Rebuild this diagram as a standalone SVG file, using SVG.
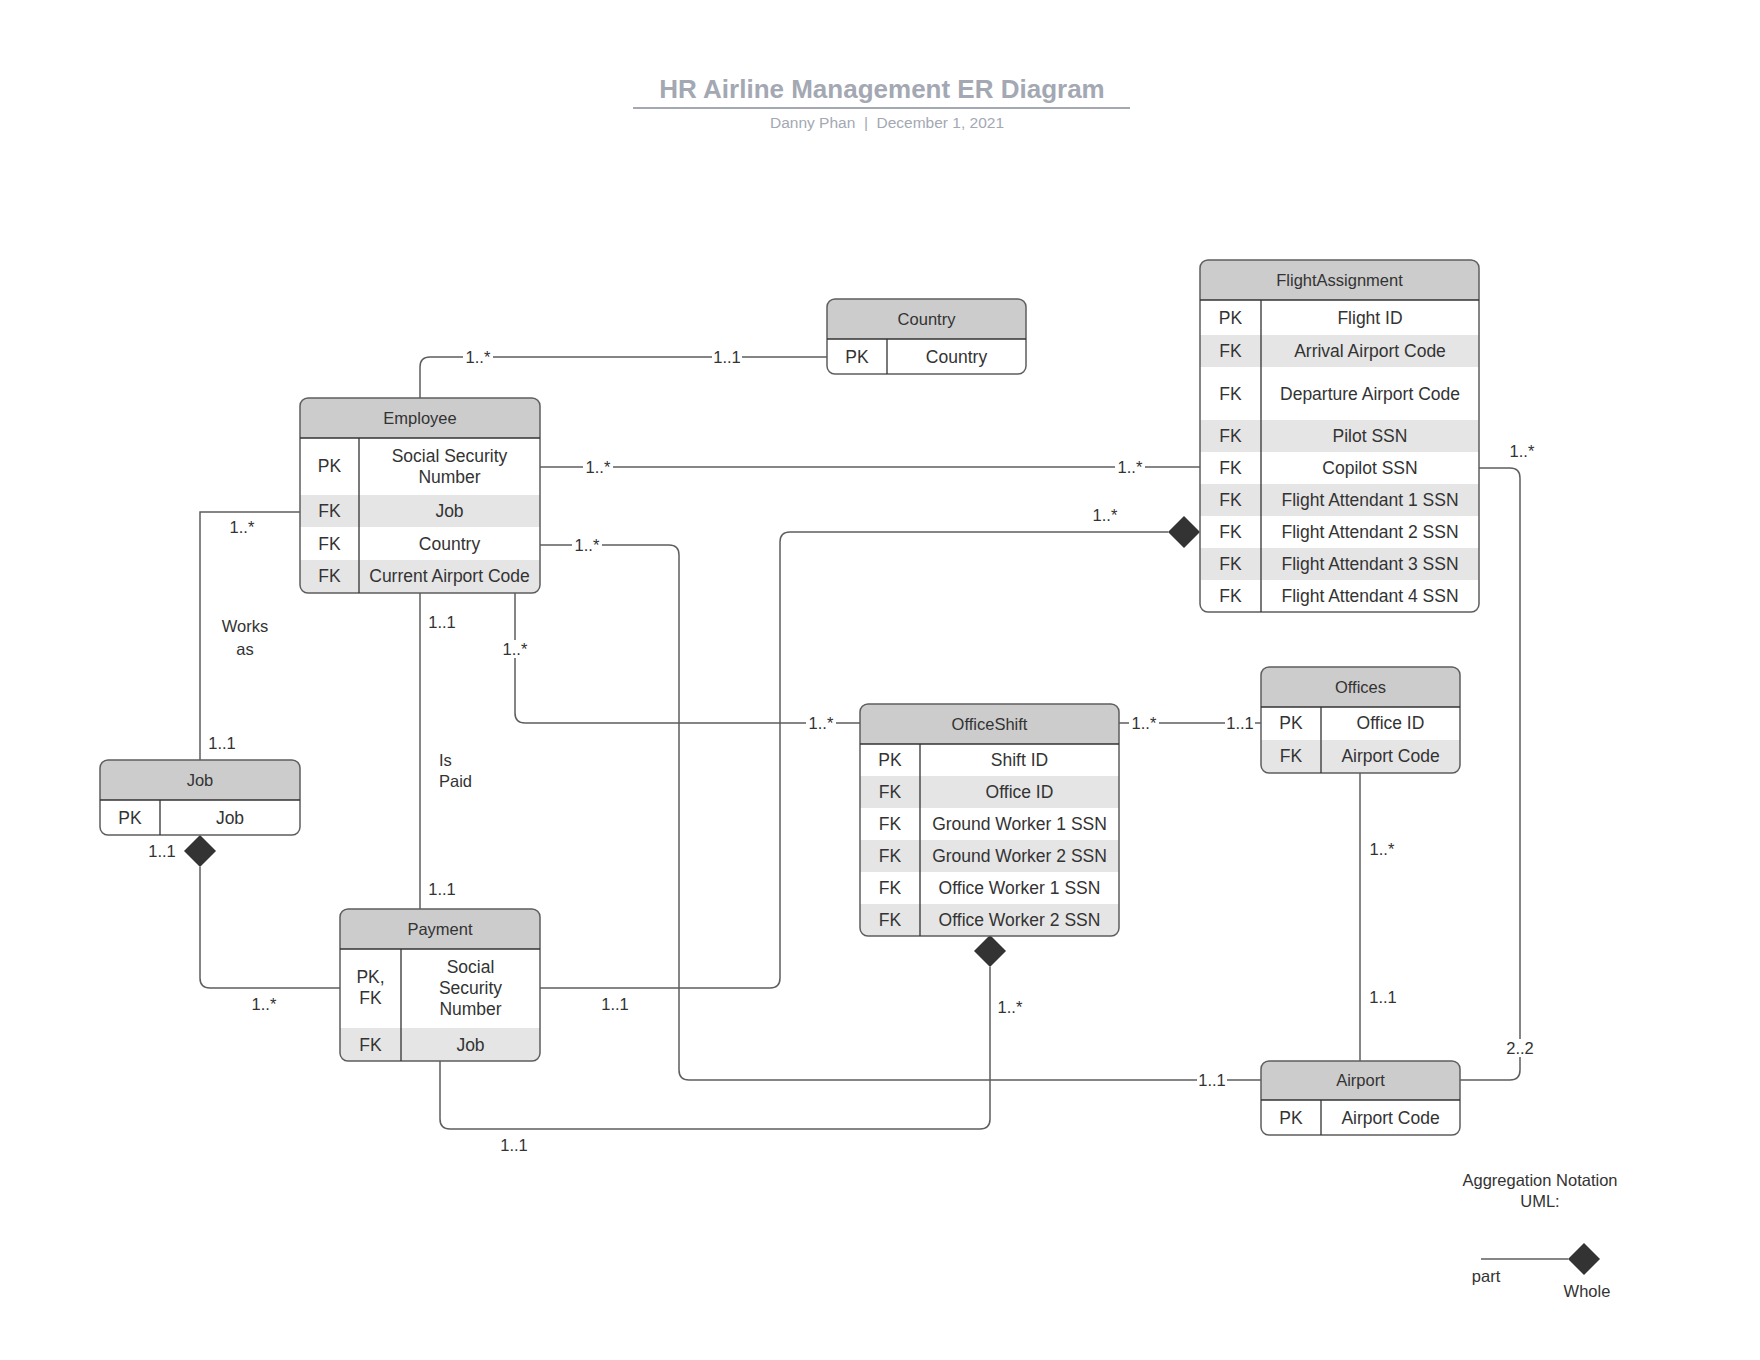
<svg xmlns="http://www.w3.org/2000/svg" width="1760" height="1360" viewBox="0 0 1760 1360">
<style>
text{font-family:"Liberation Sans",Arial,sans-serif;fill:#333;}
.title{font-size:26px;font-weight:bold;fill:#a3a8b3;}
.sub{font-size:15.5px;fill:#a3a8b3;}
.hd{font-size:16.5px;text-anchor:middle;}
.f{font-size:17.5px;text-anchor:middle;}
.lb{font-size:16.5px;text-anchor:middle;}
.ln{font-size:16.5px;}
.bg{fill:#fff;stroke:none;}
.hdr{fill:#cccccc;}
.g{fill:#e5e5e5;}
.box{fill:none;stroke:#5e5e5e;stroke-width:1.5;}
.sep{stroke:#333;stroke-width:1.3;fill:none;}
.c{fill:none;stroke:#5e5e5e;stroke-width:1.5;}
.dm{fill:#333;stroke:none;}
</style>
<defs>
<clipPath id="cpEmp"><rect x="300" y="398" width="240" height="195" rx="8"/></clipPath>
<clipPath id="cpCty"><rect x="827" y="299" width="199" height="75" rx="8"/></clipPath>
<clipPath id="cpFA"><rect x="1200" y="260" width="279" height="352" rx="8"/></clipPath>
<clipPath id="cpOS"><rect x="860" y="704" width="259" height="232" rx="8"/></clipPath>
<clipPath id="cpOff"><rect x="1261" y="667" width="199" height="106" rx="8"/></clipPath>
<clipPath id="cpAir"><rect x="1261" y="1061" width="199" height="74" rx="8"/></clipPath>
<clipPath id="cpJob"><rect x="100" y="760" width="200" height="75" rx="8"/></clipPath>
<clipPath id="cpPay"><rect x="340" y="909" width="200" height="152" rx="8"/></clipPath>
</defs>
<rect width="1760" height="1360" fill="#fff"/>

<g id="title">
<text class="title" x="882" y="98" text-anchor="middle">HR Airline Management ER Diagram</text>
<line x1="633" y1="108" x2="1130" y2="108" stroke="#a3a8b3" stroke-width="2"/>
<text class="sub" x="887" y="128" text-anchor="middle" xml:space="preserve">Danny Phan  |  December 1, 2021</text>
</g>

<g id="connectors">
<path class="c" d="M420 398 V367 Q420 357 430 357 H827"/>
<rect class="bg" x="463" y="349" width="30" height="16"/>
<text class="lb" x="478" y="357" dy="0.35em">1..*</text>
<rect class="bg" x="712" y="349" width="30" height="16"/>
<text class="lb" x="727" y="357" dy="0.35em">1..1</text>

<path class="c" d="M540 467 H1200"/>
<rect class="bg" x="583" y="459" width="30" height="16"/>
<text class="lb" x="598" y="467" dy="0.35em">1..*</text>
<rect class="bg" x="1115" y="459" width="30" height="16"/>
<text class="lb" x="1130" y="467" dy="0.35em">1..*</text>

<path class="c" d="M540 545 H669 Q679 545 679 555 V1070 Q679 1080 689 1080 H1261"/>
<rect class="bg" x="572" y="537" width="30" height="16"/>
<text class="lb" x="587" y="545" dy="0.35em">1..*</text>
<rect class="bg" x="1197" y="1072" width="30" height="16"/>
<text class="lb" x="1212" y="1080" dy="0.35em">1..1</text>

<path class="c" d="M515 593 V713 Q515 723 525 723 H860"/>
<rect class="bg" x="500" y="640" width="30" height="18"/>
<text class="lb" x="515" y="649" dy="0.35em">1..*</text>
<rect class="bg" x="806" y="715" width="30" height="16"/>
<text class="lb" x="821" y="723" dy="0.35em">1..*</text>

<path class="c" d="M300 512 H200 V760"/>
<text class="lb" x="242" y="527" dy="0.35em">1..*</text>
<text class="lb" x="245" y="626" dy="0.35em">Works</text>
<text class="lb" x="245" y="649" dy="0.35em">as</text>
<text class="lb" x="222" y="743" dy="0.35em">1..1</text>

<path class="c" d="M420 593 V909"/>
<text class="lb" x="442" y="622" dy="0.35em">1..1</text>
<text class="ln" x="439" y="760" dy="0.35em">Is</text>
<text class="ln" x="439" y="781" dy="0.35em">Paid</text>
<text class="lb" x="442" y="889" dy="0.35em">1..1</text>

<path class="c" d="M200 867 V978 Q200 988 210 988 H340"/>
<polygon class="dm" points="200,835 216,851 200,867 184,851"/>
<text class="lb" x="162" y="851" dy="0.35em">1..1</text>
<text class="lb" x="264" y="1004" dy="0.35em">1..*</text>

<path class="c" d="M540 988 H770 Q780 988 780 978 V542 Q780 532 790 532 H1168"/>
<polygon class="dm" points="1168,532 1184,516 1200,532 1184,548"/>
<text class="lb" x="615" y="1004" dy="0.35em">1..1</text>
<text class="lb" x="1105" y="515" dy="0.35em">1..*</text>

<path class="c" d="M440 1061 V1119 Q440 1129 450 1129 H980 Q990 1129 990 1119 V967"/>
<polygon class="dm" points="990,935 1006,951 990,967 974,951"/>
<text class="lb" x="514" y="1145" dy="0.35em">1..1</text>
<text class="lb" x="1010" y="1007" dy="0.35em">1..*</text>

<path class="c" d="M1119 723 H1261"/>
<rect class="bg" x="1129" y="715" width="30" height="16"/>
<text class="lb" x="1144" y="723" dy="0.35em">1..*</text>
<rect class="bg" x="1225" y="715" width="30" height="16"/>
<text class="lb" x="1240" y="723" dy="0.35em">1..1</text>

<path class="c" d="M1360 773 V1061"/>
<text class="lb" x="1382" y="849" dy="0.35em">1..*</text>
<text class="lb" x="1383" y="997" dy="0.35em">1..1</text>

<path class="c" d="M1479 468 H1510 Q1520 468 1520 478 V1070 Q1520 1080 1510 1080 H1460"/>
<text class="lb" x="1522" y="451" dy="0.35em">1..*</text>
<rect class="bg" x="1505" y="1039" width="30" height="18"/>
<text class="lb" x="1520" y="1048" dy="0.35em">2..2</text>
</g>

<g id="country">
<g clip-path="url(#cpCty)">
<rect class="hdr" x="827" y="299" width="199" height="40"/>
</g>
<rect class="box" x="827" y="299" width="199" height="75" rx="8"/>
<path class="sep" d="M827 339 H1026 M887 339 V374"/>
<text class="hd" x="926.5" y="319" dy="0.35em">Country</text>
<text class="f" x="857" y="357" dy="0.35em">PK</text>
<text class="f" x="956.5" y="357" dy="0.35em">Country</text>
</g>

<g id="employee">
<g clip-path="url(#cpEmp)">
<rect class="hdr" x="300" y="398" width="240" height="40"/>
<rect class="g" x="300" y="495" width="240" height="32"/>
<rect class="g" x="300" y="560" width="240" height="33"/>
</g>
<rect class="box" x="300" y="398" width="240" height="195" rx="8"/>
<path class="sep" d="M300 438 H540 M359 438 V593"/>
<text class="hd" x="420" y="418" dy="0.35em">Employee</text>
<text class="f" x="329.5" y="466" dy="0.35em">PK</text>
<text class="f" x="449.5" y="456" dy="0.35em">Social Security</text>
<text class="f" x="449.5" y="477" dy="0.35em">Number</text>
<text class="f" x="329.5" y="511" dy="0.35em">FK</text>
<text class="f" x="449.5" y="511" dy="0.35em">Job</text>
<text class="f" x="329.5" y="544" dy="0.35em">FK</text>
<text class="f" x="449.5" y="544" dy="0.35em">Country</text>
<text class="f" x="329.5" y="576" dy="0.35em">FK</text>
<text class="f" x="449.5" y="576" dy="0.35em">Current Airport Code</text>
</g>

<g id="flightassignment">
<g clip-path="url(#cpFA)">
<rect class="hdr" x="1200" y="260" width="279" height="40"/>
<rect class="g" x="1200" y="335" width="279" height="32"/>
<rect class="g" x="1200" y="420" width="279" height="32"/>
<rect class="g" x="1200" y="484" width="279" height="32"/>
<rect class="g" x="1200" y="548" width="279" height="32"/>
</g>
<rect class="box" x="1200" y="260" width="279" height="352" rx="8"/>
<path class="sep" d="M1200 300 H1479 M1261 300 V612"/>
<text class="hd" x="1339.5" y="280" dy="0.35em">FlightAssignment</text>
<text class="f" x="1230.5" y="317.5" dy="0.35em">PK</text>
<text class="f" x="1370" y="317.5" dy="0.35em">Flight ID</text>
<text class="f" x="1230.5" y="351" dy="0.35em">FK</text>
<text class="f" x="1370" y="351" dy="0.35em">Arrival Airport Code</text>
<text class="f" x="1230.5" y="393.5" dy="0.35em">FK</text>
<text class="f" x="1370" y="393.5" dy="0.35em">Departure Airport Code</text>
<text class="f" x="1230.5" y="436" dy="0.35em">FK</text>
<text class="f" x="1370" y="436" dy="0.35em">Pilot SSN</text>
<text class="f" x="1230.5" y="468" dy="0.35em">FK</text>
<text class="f" x="1370" y="468" dy="0.35em">Copilot SSN</text>
<text class="f" x="1230.5" y="500" dy="0.35em">FK</text>
<text class="f" x="1370" y="500" dy="0.35em">Flight Attendant 1 SSN</text>
<text class="f" x="1230.5" y="532" dy="0.35em">FK</text>
<text class="f" x="1370" y="532" dy="0.35em">Flight Attendant 2 SSN</text>
<text class="f" x="1230.5" y="564" dy="0.35em">FK</text>
<text class="f" x="1370" y="564" dy="0.35em">Flight Attendant 3 SSN</text>
<text class="f" x="1230.5" y="596" dy="0.35em">FK</text>
<text class="f" x="1370" y="596" dy="0.35em">Flight Attendant 4 SSN</text>
</g>

<g id="officeshift">
<g clip-path="url(#cpOS)">
<rect class="hdr" x="860" y="704" width="259" height="40"/>
<rect class="g" x="860" y="776" width="259" height="32"/>
<rect class="g" x="860" y="840" width="259" height="32"/>
<rect class="g" x="860" y="904" width="259" height="32"/>
</g>
<rect class="box" x="860" y="704" width="259" height="232" rx="8"/>
<path class="sep" d="M860 744 H1119 M920 744 V936"/>
<text class="hd" x="989.5" y="724" dy="0.35em">OfficeShift</text>
<text class="f" x="890" y="760" dy="0.35em">PK</text>
<text class="f" x="1019.5" y="760" dy="0.35em">Shift ID</text>
<text class="f" x="890" y="792" dy="0.35em">FK</text>
<text class="f" x="1019.5" y="792" dy="0.35em">Office ID</text>
<text class="f" x="890" y="824" dy="0.35em">FK</text>
<text class="f" x="1019.5" y="824" dy="0.35em">Ground Worker 1 SSN</text>
<text class="f" x="890" y="856" dy="0.35em">FK</text>
<text class="f" x="1019.5" y="856" dy="0.35em">Ground Worker 2 SSN</text>
<text class="f" x="890" y="888" dy="0.35em">FK</text>
<text class="f" x="1019.5" y="888" dy="0.35em">Office Worker 1 SSN</text>
<text class="f" x="890" y="920" dy="0.35em">FK</text>
<text class="f" x="1019.5" y="920" dy="0.35em">Office Worker 2 SSN</text>
</g>

<g id="offices">
<g clip-path="url(#cpOff)">
<rect class="hdr" x="1261" y="667" width="199" height="40"/>
<rect class="g" x="1261" y="740" width="199" height="33"/>
</g>
<rect class="box" x="1261" y="667" width="199" height="106" rx="8"/>
<path class="sep" d="M1261 707 H1460 M1321 707 V773"/>
<text class="hd" x="1360.5" y="687" dy="0.35em">Offices</text>
<text class="f" x="1291" y="723" dy="0.35em">PK</text>
<text class="f" x="1390.5" y="723" dy="0.35em">Office ID</text>
<text class="f" x="1291" y="756" dy="0.35em">FK</text>
<text class="f" x="1390.5" y="756" dy="0.35em">Airport Code</text>
</g>

<g id="airport">
<g clip-path="url(#cpAir)">
<rect class="hdr" x="1261" y="1061" width="199" height="39"/>
</g>
<rect class="box" x="1261" y="1061" width="199" height="74" rx="8"/>
<path class="sep" d="M1261 1100 H1460 M1321 1100 V1135"/>
<text class="hd" x="1360.5" y="1080" dy="0.35em">Airport</text>
<text class="f" x="1291" y="1117.5" dy="0.35em">PK</text>
<text class="f" x="1390.5" y="1117.5" dy="0.35em">Airport Code</text>
</g>

<g id="job">
<g clip-path="url(#cpJob)">
<rect class="hdr" x="100" y="760" width="200" height="40"/>
</g>
<rect class="box" x="100" y="760" width="200" height="75" rx="8"/>
<path class="sep" d="M100 800 H300 M160 800 V835"/>
<text class="hd" x="200" y="780" dy="0.35em">Job</text>
<text class="f" x="130" y="817.5" dy="0.35em">PK</text>
<text class="f" x="230" y="817.5" dy="0.35em">Job</text>
</g>

<g id="payment">
<g clip-path="url(#cpPay)">
<rect class="hdr" x="340" y="909" width="200" height="40"/>
<rect class="g" x="340" y="1028" width="200" height="33"/>
</g>
<rect class="box" x="340" y="909" width="200" height="152" rx="8"/>
<path class="sep" d="M340 949 H540 M401 949 V1061"/>
<text class="hd" x="440" y="929" dy="0.35em">Payment</text>
<text class="f" x="370.5" y="977" dy="0.35em">PK,</text>
<text class="f" x="370.5" y="998" dy="0.35em">FK</text>
<text class="f" x="470.5" y="967" dy="0.35em">Social</text>
<text class="f" x="470.5" y="988" dy="0.35em">Security</text>
<text class="f" x="470.5" y="1009" dy="0.35em">Number</text>
<text class="f" x="370.5" y="1044.5" dy="0.35em">FK</text>
<text class="f" x="470.5" y="1044.5" dy="0.35em">Job</text>
</g>

<g id="legend">
<text class="ln" x="1540" y="1180" dy="0.35em" text-anchor="middle">Aggregation Notation</text>
<text class="ln" x="1540" y="1201" dy="0.35em" text-anchor="middle">UML:</text>
<path class="c" d="M1481 1259 H1568"/>
<polygon class="dm" points="1568,1259 1584,1243 1600,1259 1584,1275"/>
<text class="ln" x="1486" y="1276" dy="0.35em" text-anchor="middle">part</text>
<text class="ln" x="1587" y="1291" dy="0.35em" text-anchor="middle">Whole</text>
</g>
</svg>
